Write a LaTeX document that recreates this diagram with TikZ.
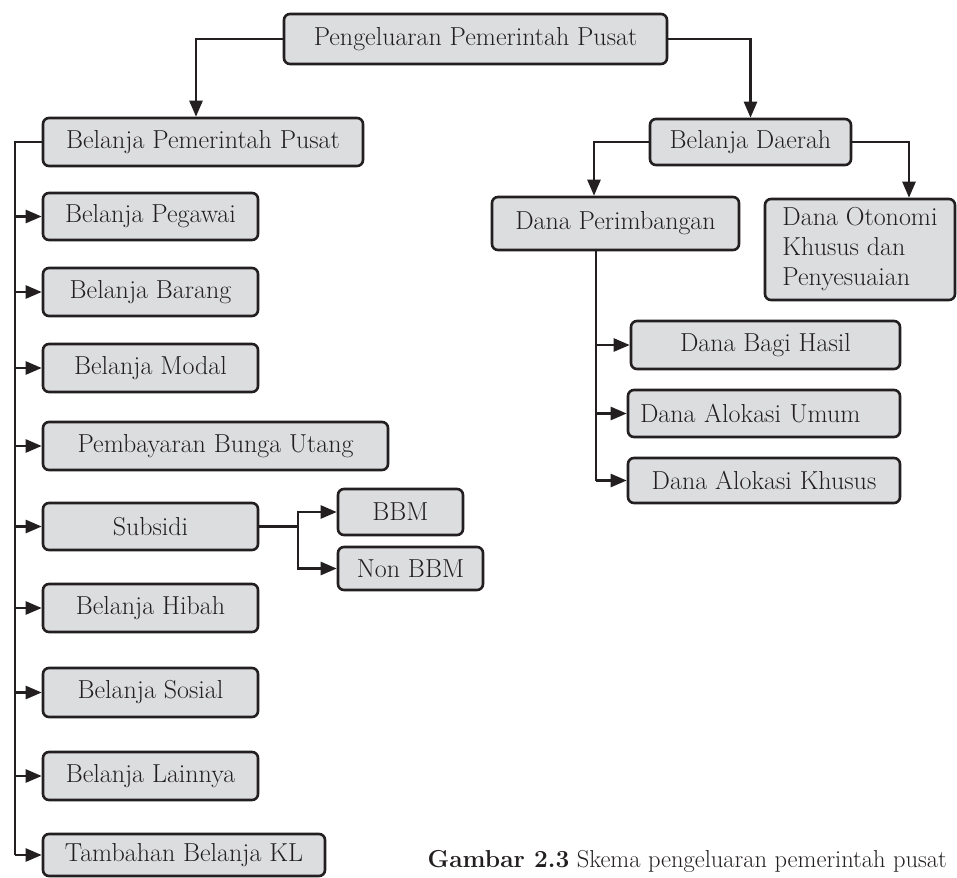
\documentclass[tikz,border=0pt]{standalone}
\usepackage{fontspec}
\usetikzlibrary{arrows.meta,calc}
\definecolor{boxfill}{HTML}{DCDDDF}
\definecolor{ink}{HTML}{231F20}
\tikzset{
  box/.style={draw=ink, fill=boxfill, line width=2.6pt, rounded corners=6pt,
    inner sep=0pt, font=\fontsize{26}{30}\selectfont, text=ink},
  conn/.style={draw=ink, line width=2.5pt},
  arr/.style={conn, -{Triangle[length=16pt,width=13pt]}},
}
\begin{document}
\begin{tikzpicture}[x=1pt,y=1pt]
\useasboundingbox (0,0) rectangle (957,-877);
% top
\node[box, minimum width=383, minimum height=50] (top) at (475.5,-39) {Pengeluaran Pemerintah Pusat};
% left branch
\node[box, minimum width=320, minimum height=48] (bpp) at (203,-142) {Belanja Pemerintah Pusat};
\node[box, minimum width=215, minimum height=47] (pegawai) at (150.5,-216.5) {Belanja Pegawai};
\node[box, minimum width=215, minimum height=48] (barang) at (150.5,-292) {Belanja Barang};
\node[box, minimum width=215, minimum height=48] (modal) at (150.5,-368) {Belanja Modal};
\node[box, minimum width=345, minimum height=48] (bunga) at (215.5,-446) {Pembayaran Bunga Utang};
\node[box, minimum width=215, minimum height=47] (subsidi) at (150.5,-526.5) {Subsidi};
\node[box, minimum width=125, minimum height=46] (bbm) at (400.5,-512) {BBM};
\node[box, minimum width=145, minimum height=43] (nonbbm) at (410.5,-568.5) {Non BBM};
\node[box, minimum width=215, minimum height=48] (hibah) at (150.5,-608) {Belanja Hibah};
\node[box, minimum width=215, minimum height=49] (sosial) at (150.5,-692.5) {Belanja Sosial};
\node[box, minimum width=215, minimum height=48] (lainnya) at (150.5,-776) {Belanja Lainnya};
\node[box, minimum width=282, minimum height=42] (tambahan) at (184,-855) {Tambahan Belanja KL};
% right branch
\node[box, minimum width=201, minimum height=46] (daerah) at (750.5,-142) {Belanja Daerah};
\node[box, minimum width=247, minimum height=53] (perimb) at (615.5,-223.5) {Dana Perimbangan};
\node[box, minimum width=190, minimum height=101, align=left] (otonomi) at (860,-249.5) {Dana Otonomi\\Khusus dan\\Penyesuaian};
\node[box, minimum width=269, minimum height=48] (bagi) at (765.5,-345) {Dana Bagi Hasil};
\node[box, minimum width=272, minimum height=47, text width=248, inner xsep=12pt, align=left] (umum) at (764,-413.5) {Dana Alokasi Umum};
\node[box, minimum width=272, minimum height=45] (khusus) at (764,-480.5) {Dana Alokasi Khusus};
% caption
\node[anchor=base east, inner sep=0pt, font=\fontsize{24.5}{28}\selectfont, text=ink] (cap) at (947,-867) {\textbf{Gambar 2.3} Skema pengeluaran pemerintah pusat};
% connectors from top
\draw[arr] (top.west) -| ([xshift=-7pt]bpp.north);
\draw[arr] (top.east) -| (daerah.north);
% left spine
\coordinate (sp) at (15,0);
\draw[conn] (bpp.west) -| (sp |- tambahan.west);
\foreach \n in {pegawai,barang,modal,bunga,subsidi,hibah,sosial,lainnya,tambahan}
  \draw[arr] (sp |- \n.west) -- (\n.west);
% subsidi branch
\coordinate (sb) at (298,-526.5);
\draw[conn] (subsidi.east) -- (sb);
\draw[arr] (sb) |- (bbm.west);
\draw[arr] (sb) |- (nonbbm.west);
% daerah branches
\draw[arr] (daerah.west) -| ([xshift=-21.5pt]perimb.north);
\draw[arr] (daerah.east) -| ([xshift=49pt]otonomi.north);
% perimbangan spine
\coordinate (ps) at (596,0);
\draw[conn] (ps |- perimb.south) -- (ps |- khusus.west);
\foreach \n in {bagi,umum,khusus}
  \draw[arr] (ps |- \n.west) -- (\n.west);
\end{tikzpicture}
\end{document}
